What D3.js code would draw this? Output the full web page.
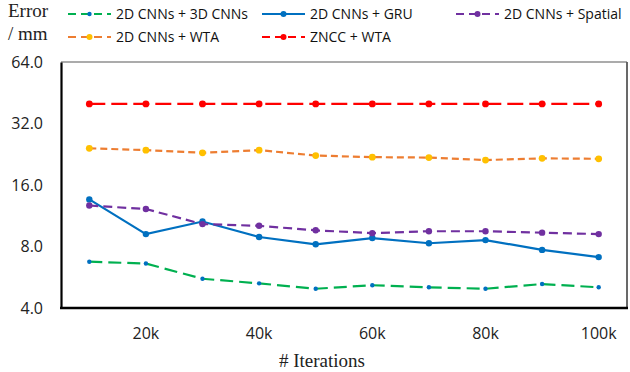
<!DOCTYPE html>
<html><head><meta charset="utf-8">
<script src="https://cdn.jsdelivr.net/npm/d3@7"></script>
<style>body{margin:0;background:#fff}svg{display:block}</style>
</head><body>
<svg id="c" width="630" height="372"></svg>
<script>
const categories = ["10k","20k","30k","40k","50k","60k","70k","80k","90k","100k"];
const xTickLabels = ["20k","40k","60k","80k","100k"];
const yTicks = [4, 8, 16, 32, 64];
const cnn3d   = [6.74, 6.6, 5.56, 5.28, 4.97, 5.17, 5.05, 4.97, 5.24, 5.05];
const gru     = [13.6, 9.2, 10.6, 8.9, 8.2, 8.8, 8.3, 8.6, 7.7, 7.1];
const spatial = [12.7, 12.2, 10.3, 10.1, 9.6, 9.3, 9.5, 9.5, 9.35, 9.2];
const wta     = [24.2, 23.7, 23.0, 23.7, 22.3, 21.9, 21.8, 21.2, 21.6, 21.5];
const zncc    = [39.9, 39.9, 39.9, 39.9, 39.9, 39.9, 39.9, 39.9, 39.9, 39.9];
const seriesNames = ["2D CNNs + 3D CNNs","2D CNNs + GRU","2D CNNs + Spatial","2D CNNs + WTA","ZNCC + WTA"];

const styles = [
  {line:"#00B050", marker:"#0070C0", dash:"13,6", r:2.2},
  {line:"#0070C0", marker:"#0070C0", dash:null, r:3.2},
  {line:"#7030A0", marker:"#7030A0", dash:"9,5", r:3.2},
  {line:"#ED7D31", marker:"#FFC000", dash:"7,4", r:3.4},
  {line:"#FF0000", marker:"#FF0000", dash:"16,6", r:3.4}
];
const series = [cnn3d, gru, spatial, wta, zncc].map((v,i)=>({name:seriesNames[i], values:v, st:styles[i]}));

const svg = d3.select("#c");
const L=61, R=627, T=62, B=308;
const x = d3.scaleBand().domain(categories).range([L,R]);
const cx = d => x(d) + x.bandwidth()/2;
const y = d3.scaleLog().base(2).domain([4,64]).range([B,T]);

// frame top/right
svg.append("line").attr("x1",L).attr("x2",R).attr("y1",T).attr("y2",T).attr("stroke","#595959").attr("stroke-width",1.2);
svg.append("line").attr("x1",R).attr("x2",R).attr("y1",T).attr("y2",B).attr("stroke","#595959").attr("stroke-width",1.8);

// axes
const yAxis = svg.append("g").attr("transform",`translate(${L},0)`)
  .call(d3.axisLeft(y).tickValues(yTicks).tickFormat(d3.format(".1f")).tickSize(0).tickPadding(18));
yAxis.select(".domain").attr("stroke","#000").attr("stroke-width",2.2);
yAxis.selectAll("text").attr("font-family","'Open Sans'").attr("font-size",16).attr("fill","#222");

const xAxis = svg.append("g").attr("transform",`translate(0,${B})`)
  .call(d3.axisBottom(x).tickValues(xTickLabels).tickSize(0).tickPadding(20));
xAxis.select(".domain").attr("d",`M${L-1},0H${R+1}`).attr("stroke","#000").attr("stroke-width",2.4);
xAxis.selectAll("text").attr("font-family","'Open Sans'").attr("font-size",16).attr("fill","#222");

// titles
svg.append("text").attr("x",322).attr("y",367).attr("text-anchor","middle")
  .attr("font-family","'Liberation Serif'").attr("font-size",19).attr("fill","#222").text("# Iterations");
svg.append("text").attr("x",8).attr("y",17).attr("font-family","'Liberation Serif'").attr("font-size",19).attr("fill","#222").text("Error");
svg.append("text").attr("x",8).attr("y",40).attr("font-family","'Liberation Serif'").attr("font-size",19).attr("fill","#222").text("/ mm");

// series
const line = d3.line().x((d,i)=>cx(categories[i])).y(d=>y(d));
series.forEach(s=>{
  svg.append("path").attr("d",line(s.values)).attr("fill","none")
    .attr("stroke",s.st.line).attr("stroke-width",2.2)
    .attr("stroke-dasharray",s.st.dash);
  svg.selectAll(null).data(s.values).enter().append("circle")
    .attr("cx",(d,i)=>cx(categories[i])).attr("cy",d=>y(d)).attr("r",s.st.r)
    .attr("fill",s.st.marker);
});

// legend
const legendPos = [[68,14],[262,14],[456,14],[68,37],[262,37]];
series.forEach((s,i)=>{
  const [lx,ly] = legendPos[i];
  const g = svg.append("g");
  g.append("line").attr("x1",lx).attr("x2",lx+43).attr("y1",ly).attr("y2",ly)
    .attr("stroke",s.st.line).attr("stroke-width",2).attr("stroke-dasharray",s.st.dash?"8,5":null);
  g.append("circle").attr("cx",lx+21.5).attr("cy",ly).attr("r",Math.min(s.st.r,3)).attr("fill",s.st.marker);
  g.append("text").attr("x",lx+48).attr("y",ly+5).attr("font-family","'Open Sans'").attr("font-size",14)
    .attr("fill","#111").text(s.name);
});
</script>
</body></html>
